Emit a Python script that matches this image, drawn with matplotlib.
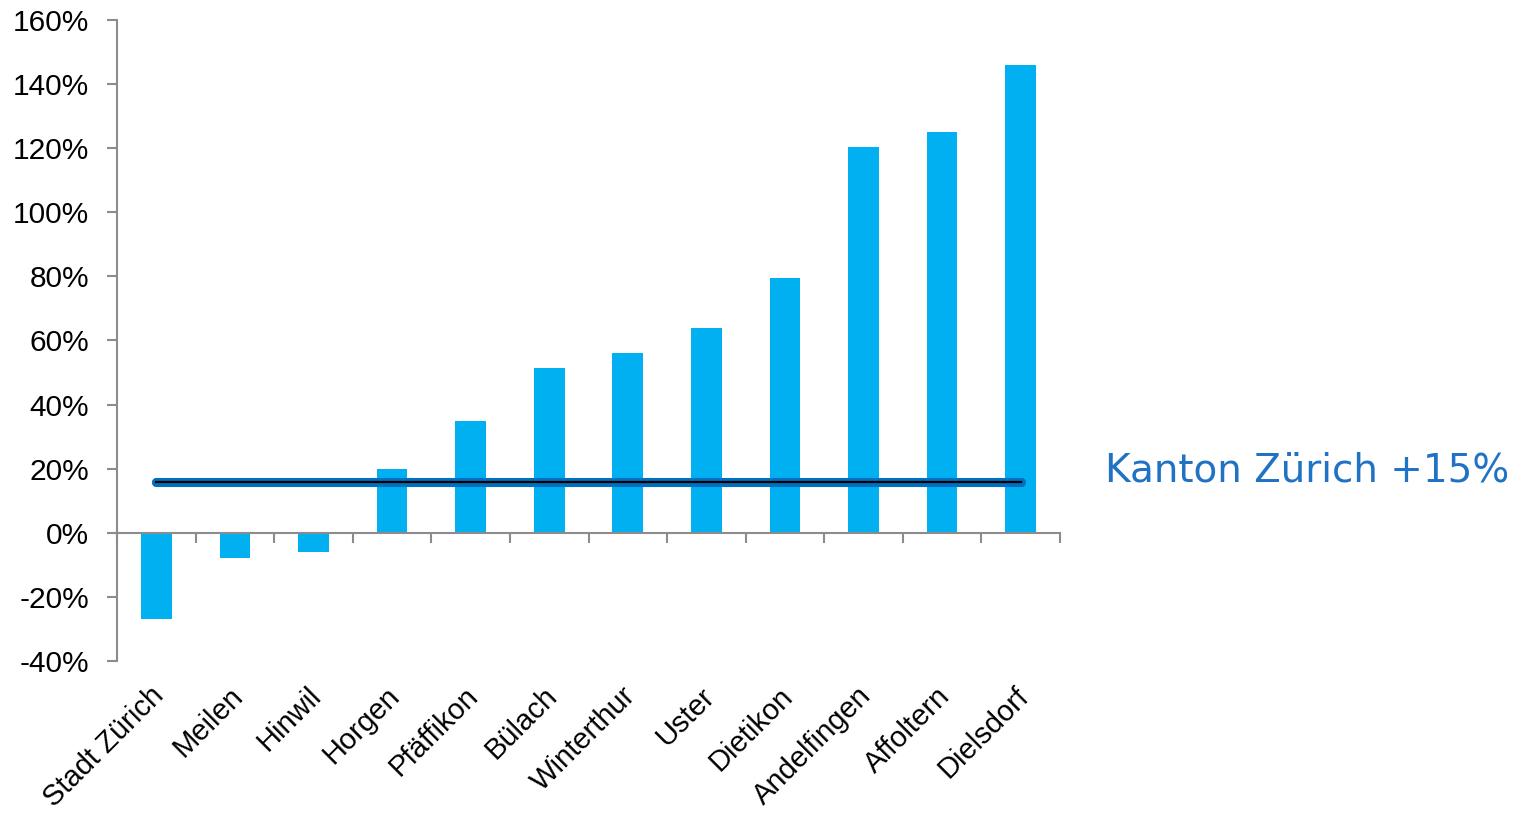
import numpy as np
import matplotlib
matplotlib.use('Agg')
from matplotlib import pyplot as plt
import matplotlib.patheffects as pe

plt.rcParams['font.family'] = ['Liberation Sans', 'DejaVu Sans']

# Bezirke und Veraenderung in %
bezirke = ['Stadt Zürich', 'Meilen', 'Hinwil', 'Horgen', 'Pfäffikon', 'Bülach',
           'Winterthur', 'Uster', 'Dietikon', 'Andelfingen', 'Affoltern', 'Dielsdorf']
werte = [-27, -8, -6, 20, 35, 51.5, 56, 64, 79.5, 120.5, 125, 146]
kanton = 16
kanton_label = 'Kanton Zürich +15%'
yticks = [-40, -20, 0, 20, 40, 60, 80, 100, 120, 140, 160]

fig = plt.figure(figsize=(15.26, 8.14), dpi=100)
ax = fig.add_axes([0.0767, 0.188, 0.6179, 0.7874])

x = np.arange(len(bezirke))
ax.bar(x, werte, width=0.39, color='#00B0F0', zorder=2)

# kantonaler Durchschnitt
ax.plot([x[0], x[-1]], [kanton, kanton], color='#0070C0', lw=6.5,
        solid_capstyle='round', zorder=3,
        path_effects=[pe.Stroke(linewidth=6.5, foreground='#0070C0'), pe.Normal()])
ax.plot([x[0], x[-1]], [kanton, kanton], color='black', lw=1.6, zorder=4)
ax.text(x[-1] + 1.07, 19.5, kanton_label, color='#1F72C4', fontsize=28,
        family=['DejaVu Sans'], va='center', ha='left', clip_on=False)

ax.set_xlim(-0.5, len(bezirke) - 0.5)
ax.set_ylim(-40, 160)
ax.set_yticks(yticks)
ax.set_yticklabels([f'{v}%' for v in yticks], fontsize=21.5)

# Achsen im Excel-Stil
for s in ['top', 'right']:
    ax.spines[s].set_visible(False)
ax.spines['bottom'].set_position(('data', 0))
for s in ['left', 'bottom']:
    ax.spines[s].set_color('#8C8C8C')
    ax.spines[s].set_linewidth(1.5)
ax.tick_params(axis='y', direction='out', length=7, width=1.5, color='#8C8C8C', pad=13)
ax.set_xticks(np.arange(-0.5, len(bezirke), 1.0))
ax.set_xticklabels([])
ax.tick_params(axis='x', direction='out', length=7, width=1.5, color='#8C8C8C')

for i, name in enumerate(bezirke):
    ax.text(i - 0.08, -46.5, name, rotation=45, rotation_mode='anchor',
            ha='right', va='top', fontsize=21, clip_on=False)

fig.savefig('out.png', dpi=100)
